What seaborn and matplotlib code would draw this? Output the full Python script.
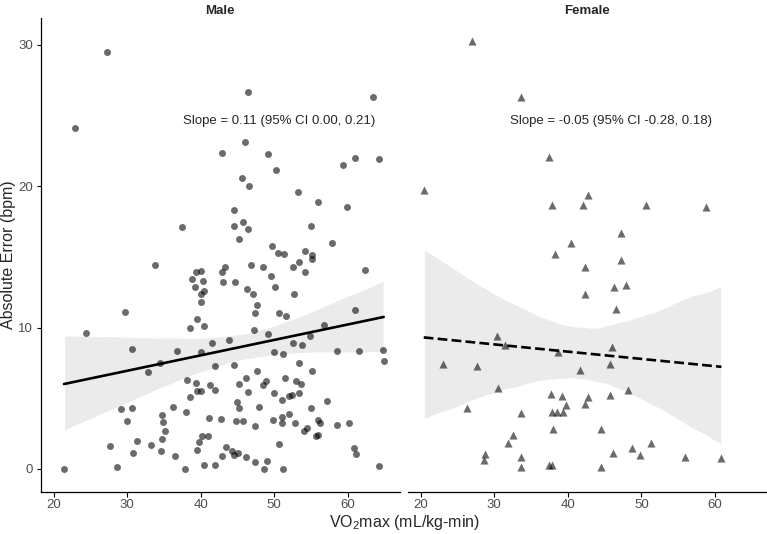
import numpy as np
import pandas as pd
import matplotlib
matplotlib.use("Agg")
import matplotlib.pyplot as plt
import seaborn as sns

# ---- data (VO2max, absolute error) ----
male_vo2 = [
    27.2, 22.95, 42.95, 37.5, 46.5, 63.5, 46.0, 49.2, 50.2, 59.3, 60.95, 64.2,
    45.6, 46.6, 53.3, 56.0, 59.9, 44.5, 44.6, 45.75, 46.4, 55.0, 45.2, 49.7, 57.8,
    33.8, 39.4, 40.1, 43.3, 42.9, 38.8, 40.3, 43.1, 39.2, 40.4, 40.1, 40.0, 29.75,
    39.5, 38.5, 40.4, 24.35, 30.6, 36.8, 41.5, 43.9, 40.0, 34.5, 32.8, 41.9, 38.2,
    39.4, 41.3, 42.0, 39.5, 40.1, 38.55, 29.1, 30.7, 30.0, 34.7, 36.2, 38.0, 34.9,
    35.15, 41.1, 42.7, 27.6, 31.4, 33.2, 34.8, 30.8, 34.65, 36.5, 40.2, 41.05,
    39.8, 39.5, 43.5, 42.95, 21.4, 28.6, 37.9, 40.4, 42.0,
    50.5, 51.3, 54.2, 55.2, 55.2, 46.8, 48.5, 52.6, 53.4, 54.25, 62.4, 49.6, 50.1,
    44.7, 46.35, 47.1, 52.65, 47.6, 47.4, 50.6, 51.6, 61.0, 47.3, 49.2, 56.8, 52.5,
    53.8, 54.9, 50.0, 51.2, 58.5, 61.6, 64.85, 64.9, 44.6, 53.4, 47.7, 55.2, 46.1,
    45.2, 51.5, 53.0, 53.7, 48.5, 48.9, 46.5, 50.0, 53.4, 51.1, 52.0, 52.4, 57.2,
    45.0, 45.2, 48.0, 55.0, 44.8, 45.8, 47.4, 49.9, 51.1, 51.0, 52.0, 52.9, 54.1,
    54.4, 56.0, 56.3, 58.5, 60.2, 55.7, 56.0, 50.65, 44.2, 44.6, 45.1, 46.1, 47.4,
    49.0, 48.6, 51.2, 60.85, 61.1, 64.3,
]
male_err = [
    29.5, 24.1, 22.35, 17.1, 26.7, 26.3, 23.1, 22.3, 21.15, 21.5, 22.0, 21.9,
    20.6, 20.0, 19.6, 18.9, 18.5, 18.35, 17.2, 17.5, 17.0, 17.2, 16.25, 15.8, 16.0,
    14.4, 13.9, 14.0, 14.25, 13.9, 13.4, 13.3, 13.2, 12.9, 12.6, 12.4, 11.8, 11.1,
    10.6, 10.0, 10.1, 9.6, 8.45, 8.35, 8.9, 9.15, 8.25, 7.5, 6.85, 7.3, 6.3,
    6.1, 5.9, 5.6, 5.5, 5.5, 5.05, 4.2, 4.3, 3.4, 3.8, 4.4, 4.0, 3.3,
    2.7, 3.6, 3.5, 1.6, 2.0, 1.7, 2.1, 1.1, 1.25, 0.9, 2.3, 2.3,
    1.9, 1.3, 1.55, 0.9, 0.0, 0.15, 0.0, 0.3, 0.3,
    15.3, 15.2, 15.4, 15.1, 14.85, 14.4, 14.25, 14.3, 14.65, 13.95, 14.1, 13.65, 12.9,
    13.2, 12.7, 12.4, 12.4, 11.6, 11.0, 11.0, 10.85, 11.25, 9.85, 9.55, 10.2, 8.9,
    8.75, 9.4, 8.25, 8.15, 8.35, 8.35, 8.4, 7.6, 7.35, 7.5, 6.9, 6.9, 6.4,
    6.0, 6.45, 6.2, 6.0, 5.9, 6.2, 5.45, 5.4, 5.4, 4.9, 5.15, 5.2, 4.8,
    4.7, 4.3, 4.4, 4.3, 3.35, 3.4, 3.05, 3.45, 3.7, 3.25, 3.9, 3.25, 2.7,
    2.9, 3.45, 3.25, 3.1, 3.25, 2.3, 2.4, 1.75, 1.25, 1.0, 1.1, 0.85, 0.5,
    0.55, 0.0, 0.0, 1.5, 1.05, 0.2,
]

female_vo2 = [
    27.0, 33.65, 37.5, 20.4, 37.9, 42.1, 42.8, 40.45, 50.6, 58.8, 47.3,
    38.2, 42.4, 42.3, 30.4, 31.5, 38.6, 23.0, 27.7, 41.7, 30.5, 37.7, 39.2, 39.7,
    42.4, 26.3, 33.7, 37.9, 38.5, 39.3, 38.0, 32.6, 31.8, 28.8, 28.6, 33.7, 33.65,
    37.5, 37.85, 42.8, 47.2, 46.3, 47.9, 46.5, 46.0, 45.7, 48.2, 45.7, 44.5,
    51.3, 48.8, 46.1, 49.8, 55.9, 60.9, 44.5,
]
female_err = [
    30.3, 26.3, 22.1, 19.7, 18.7, 18.7, 19.4, 16.0, 18.7, 18.5, 16.7,
    15.2, 14.3, 12.35, 9.4, 8.75, 8.25, 7.4, 7.3, 7.0, 5.75, 5.3, 5.15, 4.55,
    4.6, 4.3, 3.95, 4.0, 4.0, 4.0, 2.8, 2.4, 1.8, 1.05, 0.65, 0.8, 0.1,
    0.25, 0.3, 5.05, 14.75, 12.9, 13.0, 11.3, 8.6, 7.4, 5.55, 5.2, 2.8,
    1.8, 1.5, 1.1, 0.95, 0.85, 0.75, 0.1,
]

panel_titles = ["Male", "Female"]
slope_labels = [
    "Slope = 0.11 (95% CI 0.00, 0.21)",
    "Slope = -0.05 (95% CI -0.28, 0.18)",
]
x_ticks = [20, 30, 40, 50, 60]
y_ticks = [0, 10, 20, 30]

# ---- style ----
sns.set_theme(style="ticks")
plt.rcParams.update({
    'font.family': ['Liberation Sans', 'DejaVu Sans'],
    'mathtext.fontset': 'custom',
    'mathtext.rm': 'Liberation Sans',
    'mathtext.it': 'Liberation Sans',
    'mathtext.default': 'regular',
    'axes.edgecolor': 'black',
    'axes.linewidth': 0.9,
    'xtick.color': 'black',
    'ytick.color': 'black',
    'xtick.labelcolor': '#4d4d4d',
    'ytick.labelcolor': '#4d4d4d',
    'xtick.major.size': 3.5,
    'ytick.major.size': 3.0,
    'xtick.major.width': 0.8,
    'ytick.major.width': 0.8,
    'xtick.major.pad': 2,
    'ytick.major.pad': 2.5,
})


def main():
    df = pd.concat([
        pd.DataFrame({'vo2': male_vo2, 'err': male_err, 'sex': 'Male'}),
        pd.DataFrame({'vo2': female_vo2, 'err': female_err, 'sex': 'Female'}),
    ], ignore_index=True)

    fig, axes = plt.subplots(1, 2, figsize=(7.67, 5.34), dpi=100,
                             sharex=True, sharey=True)
    fig.subplots_adjust(left=0.053, right=1.0, bottom=0.079, top=0.966,
                        wspace=0.022)

    markers = ['o', '^']
    styles = ['-', '--']
    text_x = [0.665, 0.565]
    for i, (ax, sex) in enumerate(zip(axes, panel_titles)):
        sub = df[df['sex'] == sex]
        sns.regplot(
            data=sub, x='vo2', y='err', ax=ax,
            marker=markers[i], ci=95, n_boot=2000, seed=7,
            scatter_kws=dict(color='black', alpha=0.58, s=25 if i == 0 else 34,
                             linewidths=0),
            line_kws=dict(color='black', lw=1.9, linestyle=styles[i]),
        )
        # ggplot-like grey ribbon
        for coll in ax.collections[1:]:
            coll.set_facecolor('#ebebeb')
            coll.set_alpha(1.0)
            coll.set_zorder(0)

        ax.set_title(sex, fontsize=9.5, fontweight='bold', pad=3)
        ax.text(text_x[i], 0.783, slope_labels[i],
                transform=ax.transAxes, ha='center', va='center', fontsize=9.5)
        ax.set_xlabel('')
        ax.set_ylabel('')
        sns.despine(ax=ax)
        ax.tick_params(labelsize=9.5)

    axes[1].spines['left'].set_visible(False)
    axes[1].tick_params(axis='y', left=False)

    axes[0].set_xlim(18.23, 67.1)
    axes[0].set_ylim(-1.63, 31.9)
    axes[0].set_xticks(x_ticks)
    axes[0].set_yticks(y_ticks)

    axes[0].set_ylabel('Absolute Error (bpm)', fontsize=11.5)
    axes[0].yaxis.set_label_coords(-0.07, 0.5)
    fig.text(0.527, 0.004, 'VO$_2$max (mL/kg-min)', ha='center', va='bottom',
             fontsize=11.5)

    fig.savefig('out.png', dpi=100)
    plt.close(fig)


if __name__ == "__main__":
    main()
